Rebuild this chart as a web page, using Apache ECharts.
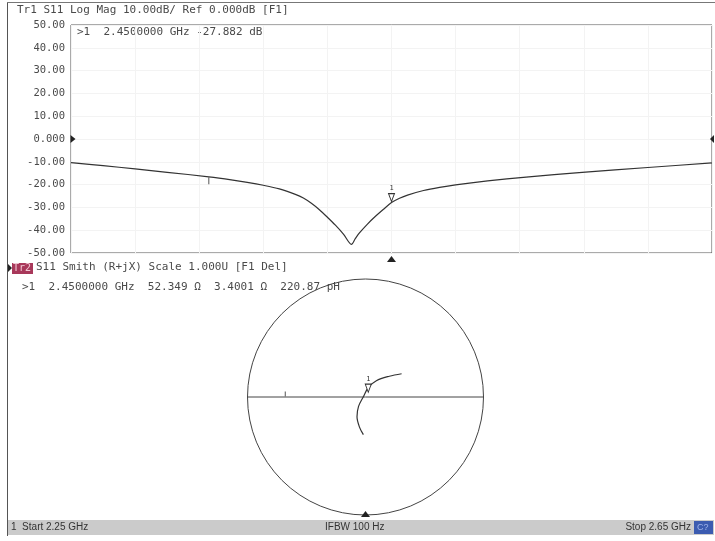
<!DOCTYPE html>
<html>
<head>
<meta charset="utf-8">
<title>S11 Log Mag / Smith</title>
<script src="https://cdn.jsdelivr.net/npm/echarts@6/dist/echarts.min.js"></script>
<style>
  html, body { margin: 0; padding: 0; background: #fff; }
  #main { width: 715px; height: 541px; }
</style>
</head>
<body>
<div id="main"></div>
<script>
// S11 log mag trace
const freqGHz = [2.25, 2.27, 2.29, 2.31, 2.336, 2.35, 2.36, 2.37, 2.38, 2.39, 2.395, 2.40, 2.405,
  2.41, 2.415, 2.42, 2.425, 2.4275, 2.43, 2.435, 2.44, 2.445, 2.45, 2.455, 2.46, 2.47, 2.48,
  2.49, 2.51, 2.534, 2.569, 2.61, 2.65];
const s11dB = [-10.4, -11.7, -13.1, -14.6, -16.6, -17.9, -19.0, -20.3, -21.9, -24.3, -25.9, -28.2, -31.0,
  -34.3, -37.8, -41.7, -46.2, -43.6, -41.2, -37.3, -33.9, -30.8, -27.9, -26.0, -24.6, -22.6, -21.2,
  -20.1, -18.4, -16.7, -14.6, -12.5, -10.5];
const yTickLabels = ['-50.00', '-40.00', '-30.00', '-20.00', '-10.00', '0.000',
  '10.00', '20.00', '30.00', '40.00', '50.00'];

// Smith trace, reflection coefficient (re, im)
const smithRe = [-0.018, -0.051, -0.072, -0.059, -0.018, 0.023, 0.092, 0.202, 0.306];
const smithIm = [-0.319, -0.255, -0.168, -0.080, 0.002, 0.080, 0.138, 0.176, 0.197];

const marker1 = { freq: 2.45, dB: -27.882, re: 0.0234, im: 0.0324 };

const TXT = '#4a4a4a';
const MONO = 'DejaVu Sans Mono';

const toPolar = (re, im) => {
  let a = Math.atan2(im, re) * 180 / Math.PI;
  if (a < 0) a += 360;
  return [Math.hypot(re, im), a];
};
const logMagData = freqGHz.map((f, i) => [f, s11dB[i]]);
const smithData = smithRe.map((re, i) => toPolar(re, smithIm[i]));

const myChart = echarts.init(document.getElementById('main'));
const option = {
  animation: false,
  backgroundColor: '#fff',
  grid: {
    left: 71, top: 25, width: 641, height: 228,
    show: true, borderColor: '#555', borderWidth: 1
  },
  xAxis: [
    {
      type: 'value', min: 2.25, max: 2.65,
      axisLine: { show: false }, axisTick: { show: false },
      axisLabel: { show: false }, splitLine: { show: false }
    },
    {
      // 10 divisions for the graticule
      type: 'value', min: 0, max: 10, interval: 1,
      axisLine: { show: false }, axisTick: { show: false }, axisLabel: { show: false },
      splitLine: { show: true, lineStyle: { color: '#f3f3f3', width: 1 } }
    }
  ],
  yAxis: {
    type: 'value', min: -50, max: 50, interval: 10,
    axisLine: { show: false }, axisTick: { show: false },
    axisLabel: {
      margin: 6, color: TXT, fontFamily: MONO, fontSize: 10.5,
      formatter: (v) => yTickLabels[Math.round((v + 50) / 10)]
    },
    splitLine: { show: true, lineStyle: { color: '#f3f3f3', width: 1 } }
  },
  polar: { center: [365.5, 397], radius: 118 },
  angleAxis: {
    type: 'value', min: 0, max: 360, interval: 180,
    startAngle: 0, clockwise: false,
    axisLine: { show: true, lineStyle: { color: '#444', width: 1 } },
    axisTick: { show: false }, axisLabel: { show: false },
    splitLine: { show: true, lineStyle: { color: '#444', width: 1 } }
  },
  radiusAxis: {
    type: 'value', min: 0, max: 1,
    axisLine: { show: false }, axisTick: { show: false },
    axisLabel: { show: false }, splitLine: { show: false }
  },
  series: [
    {
      name: 'Tr1 S11 Log Mag', type: 'line',
      xAxisIndex: 0, yAxisIndex: 0,
      data: logMagData, smooth: 0.3, showSymbol: false,
      lineStyle: { color: '#333', width: 1.2 },
      markPoint: {
        silent: true,
        data: [
          {
            coord: [marker1.freq, marker1.dB], symbol: 'triangle', symbolRotate: 180,
            symbolSize: [6, 8], symbolOffset: [0, -5],
            itemStyle: { color: '#fff', borderColor: '#333', borderWidth: 1 },
            label: { show: true, formatter: '1', position: 'top', distance: 1,
              color: '#333', fontFamily: MONO, fontSize: 7 }
          },
          {
            coord: [2.336, -16.6], symbol: 'rect', symbolSize: [1, 7], symbolOffset: [0, 4],
            itemStyle: { color: '#555' }, label: { show: false }
          },
          {
            coord: [2.25, 0], symbol: 'triangle', symbolRotate: -90,
            symbolSize: [8, 5], symbolOffset: [2, 0],
            itemStyle: { color: '#222' }, label: { show: false }
          },
          {
            coord: [2.65, 0], symbol: 'triangle', symbolRotate: 90,
            symbolSize: [8, 4], symbolOffset: [0, 0],
            itemStyle: { color: '#222' }, label: { show: false }
          },
          {
            coord: [marker1.freq, -50], symbol: 'triangle',
            symbolSize: [9, 6], symbolOffset: [0, 6],
            itemStyle: { color: '#222' }, label: { show: false }
          }
        ]
      }
    },
    {
      name: 'Tr2 S11 Smith', type: 'line', coordinateSystem: 'polar',
      data: smithData, smooth: 0.35, showSymbol: false,
      lineStyle: { color: '#333', width: 1.2 },
      markPoint: {
        silent: true,
        data: [
          {
            coord: toPolar(marker1.re, marker1.im), symbol: 'triangle', symbolRotate: 180,
            symbolSize: [6, 8], symbolOffset: [0, -5],
            itemStyle: { color: '#fff', borderColor: '#333', borderWidth: 1 },
            label: { show: true, formatter: '1', position: 'top', distance: 1,
              color: '#333', fontFamily: MONO, fontSize: 7 }
          },
          {
            coord: [0.68, 180], symbol: 'rect', symbolSize: [1, 5], symbolOffset: [0, -3],
            itemStyle: { color: '#555' }, label: { show: false }
          },
          {
            coord: [1, 270], symbol: 'triangle', symbolSize: [9, 6], symbolOffset: [0, -1],
            itemStyle: { color: '#222' }, label: { show: false }
          }
        ]
      }
    }
  ],
  graphic: [
    // screen outline
    { type: 'line', shape: { x1: 7.5, y1: 2, x2: 7.5, y2: 536 }, style: { stroke: '#555', lineWidth: 1 } },
    { type: 'line', shape: { x1: 7, y1: 2.5, x2: 715, y2: 2.5 }, style: { stroke: '#777', lineWidth: 1 } },
    {
      type: 'text', left: 17, top: 5,
      style: { text: 'Tr1 S11 Log Mag 10.00dB/ Ref 0.000dB [F1]', fill: TXT, font: '11px "DejaVu Sans Mono"' }
    },
    {
      type: 'text', left: 77, top: 27,
      style: { text: '>1  2.4500000 GHz -27.882 dB', fill: TXT, font: '11px "DejaVu Sans Mono"' }
    },
    // Tr2 header
    { type: 'polygon', shape: { points: [[8, 264], [12, 268], [8, 272]] }, style: { fill: '#222' } },
    { type: 'rect', shape: { x: 12, y: 263, width: 21, height: 11 }, style: { fill: '#a8385a' } },
    {
      type: 'text', left: 13, top: 263,
      style: { text: 'Tr2', fill: '#f2c8d4', font: '10px "DejaVu Sans Mono"' }
    },
    {
      type: 'text', left: 36, top: 262,
      style: { text: 'S11 Smith (R+jX) Scale 1.000U [F1 Del]', fill: TXT, font: '11px "DejaVu Sans Mono"' }
    },
    {
      type: 'text', left: 22, top: 282,
      style: { text: '>1  2.4500000 GHz  52.349 Ω  3.4001 Ω  220.87 pH', fill: TXT, font: '11px "DejaVu Sans Mono"' }
    },
    // status bar
    { type: 'rect', shape: { x: 8, y: 520, width: 706, height: 15 }, style: { fill: '#cbcbcb' } },
    {
      type: 'text', left: 11, top: 522,
      style: { text: '1  Start 2.25 GHz', fill: '#333', font: '10px "Liberation Sans"' }
    },
    {
      type: 'text', left: 325, top: 522,
      style: { text: 'IFBW 100 Hz', fill: '#333', font: '10px "Liberation Sans"' }
    },
    {
      type: 'text', right: 24, top: 522,
      style: { text: 'Stop 2.65 GHz', fill: '#333', font: '10px "Liberation Sans"' }
    },
    { type: 'rect', shape: { x: 694, y: 521, width: 19, height: 13 }, style: { fill: '#3b5bb0' } },
    {
      type: 'text', left: 697, top: 523,
      style: { text: 'C?', fill: '#9fb4ea', font: '9px "Liberation Sans"' }
    }
  ]
};
myChart.setOption(option);
window.addEventListener('resize', () => myChart.resize());
</script>
</body>
</html>
